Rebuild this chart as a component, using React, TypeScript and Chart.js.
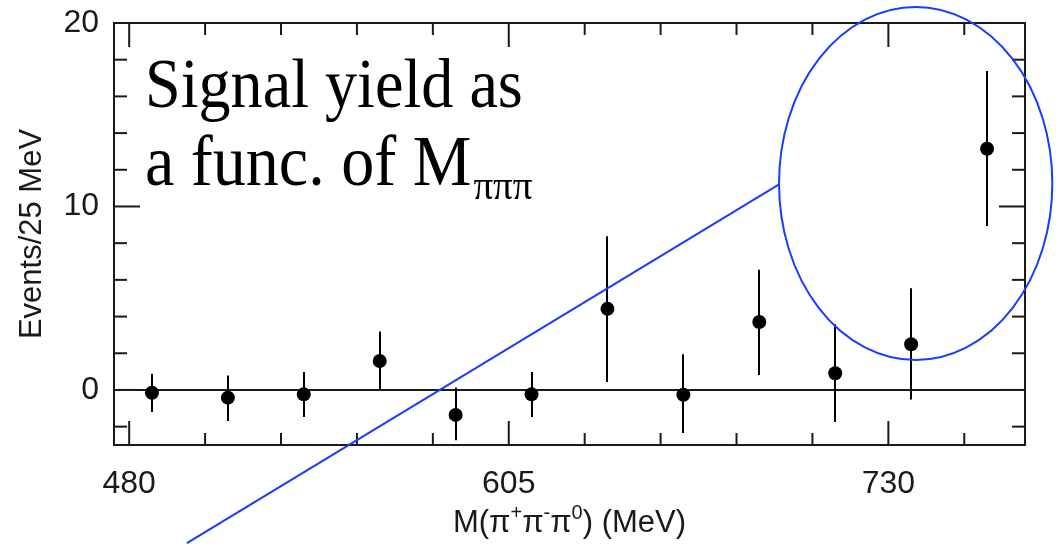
import React, { useEffect, useRef } from "react";
import { Chart, registerables } from "chart.js";

Chart.register(...registerables);

// ---- data ----
const massBins = [487.5, 512.5, 537.5, 562.5, 587.5, 612.5, 637.5, 662.5, 687.5, 712.5, 737.5, 762.5];
const yields = [-0.15, -0.42, -0.24, 1.58, -1.36, -0.24, 4.42, -0.26, 3.7, 0.91, 2.49, 13.15];
const errLow = [-1.2, -1.69, -1.48, 0.0, -2.74, -1.48, 0.44, -2.35, 0.82, -1.75, -0.52, 8.94];
const errHigh = [0.89, 0.79, 0.98, 3.19, 0.14, 0.98, 8.38, 1.95, 6.55, 3.58, 5.54, 17.38];

const xTickLabels = [480, 605, 730];
const xTickMarks = [480, 505, 530, 555, 580, 605, 630, 655, 680, 705, 730, 755];
const yTickLabels = [0, 10, 20];
const yMinorTicks = [-2, 2, 4, 6, 8, 12, 14, 16, 18];

// annotation geometry in data units
const ellipseCenter = [739, 11.25];
const ellipseRadii = [45, 9.62];
const pointerFrom = [694, 11.2];
const pointerTo = [499, -8.35];

const SANS = "'Liberation Sans', Arial, Helvetica, sans-serif";
const SERIF = "'Liberation Serif', 'Times New Roman', serif";
const INK = "#1a1a1a";
const BLUE = "#1a3cff";

function seg(ctx: CanvasRenderingContext2D, x1: number, y1: number, x2: number, y2: number) {
  ctx.beginPath();
  ctx.moveTo(x1, y1);
  ctx.lineTo(x2, y2);
  ctx.stroke();
}

const physPlugin = {
  id: "physPlot",
  beforeDatasetsDraw(chart: any) {
    const { ctx, chartArea: a, scales } = chart;
    const xs = scales.x;
    const ys = scales.y;
    ctx.save();
    ctx.strokeStyle = INK;
    ctx.lineWidth = 2;
    ctx.lineCap = "butt";
    // zero line
    const y0 = ys.getPixelForValue(0);
    seg(ctx, a.left, y0, a.right, y0);
    // x ticks (bottom and top, inward)
    for (const v of xTickMarks) {
      const px = xs.getPixelForValue(v);
      const len = xTickLabels.includes(v) ? 24 : 12;
      seg(ctx, px, a.bottom, px, a.bottom - len);
      seg(ctx, px, a.top, px, a.top + len);
    }
    // y ticks (left and right, inward)
    for (const v of yMinorTicks) {
      const py = ys.getPixelForValue(v);
      seg(ctx, a.left, py, a.left + 13, py);
      seg(ctx, a.right, py, a.right - 13, py);
    }
    for (const v of yTickLabels) {
      const py = ys.getPixelForValue(v);
      seg(ctx, a.left, py, a.left + 26, py);
      seg(ctx, a.right, py, a.right - 26, py);
    }
    // error bars
    ctx.strokeStyle = "#000";
    for (let i = 0; i < massBins.length; i++) {
      const px = Math.round(xs.getPixelForValue(massBins[i]));
      seg(ctx, px, ys.getPixelForValue(errLow[i]), px, ys.getPixelForValue(errHigh[i]));
    }
    // frame
    ctx.strokeStyle = INK;
    ctx.strokeRect(a.left, a.top, a.right - a.left, a.bottom - a.top);
    ctx.restore();
  },
  afterDraw(chart: any) {
    const { ctx, chartArea: a, scales } = chart;
    const xs = scales.x;
    const ys = scales.y;
    ctx.save();

    // x-axis title with superscripts
    const parts: [string, boolean][] = [
      ["M(\u03c0", false],
      ["+", true],
      ["\u03c0", false],
      ["-", true],
      ["\u03c0", false],
      ["0", true],
      [") (MeV)", false],
    ];
    const base = 31;
    const supSize = 20;
    const fontFor = (sup: boolean) => `${sup ? supSize : base}px ${SANS}`;
    let total = 0;
    for (const [t, s] of parts) {
      ctx.font = fontFor(s);
      total += ctx.measureText(t).width;
    }
    let cx = (a.left + a.right) / 2 - total / 2;
    const baseY = 532;
    ctx.fillStyle = INK;
    ctx.textBaseline = "alphabetic";
    ctx.textAlign = "left";
    for (const [t, s] of parts) {
      ctx.font = fontFor(s);
      ctx.fillText(t, cx, s ? baseY - 13 : baseY);
      cx += ctx.measureText(t).width;
    }

    // annotation text
    ctx.fillStyle = "#000";
    const sx = 0.93;
    const drawSq = (text: string, x: number, y: number, size: number) => {
      ctx.save();
      ctx.translate(x, y);
      ctx.scale(sx, 1);
      ctx.font = `${size}px ${SERIF}`;
      ctx.fillText(text, 0, 0);
      const w = ctx.measureText(text).width * sx;
      ctx.restore();
      return w;
    };
    drawSq("Signal yield as", 145, 107, 69);
    const w2 = drawSq("a func. of M", 145, 185, 71);
    drawSq("\u03c0\u03c0\u03c0", 145 + w2 + 2, 199, 42);

    // blue ellipse and pointer
    ctx.strokeStyle = BLUE;
    ctx.lineWidth = 2;
    const ecx = xs.getPixelForValue(ellipseCenter[0]);
    const ecy = ys.getPixelForValue(ellipseCenter[1]);
    const erx = Math.abs(xs.getPixelForValue(ellipseCenter[0] + ellipseRadii[0]) - ecx);
    const ery = Math.abs(ys.getPixelForValue(ellipseCenter[1] + ellipseRadii[1]) - ecy);
    ctx.beginPath();
    ctx.ellipse(ecx, ecy, erx, ery, 0, 0, Math.PI * 2);
    ctx.stroke();
    seg(
      ctx,
      xs.getPixelForValue(pointerFrom[0]),
      ys.getPixelForValue(pointerFrom[1]),
      xs.getPixelForValue(pointerTo[0]),
      ys.getPixelForValue(pointerTo[1])
    );
    ctx.restore();
  },
};

export default function App() {
  const canvasRef = useRef<HTMLCanvasElement | null>(null);

  useEffect(() => {
    document.body.style.margin = "0";
    const canvas = canvasRef.current;
    if (!canvas) return;
    const chart = new Chart(canvas, {
      type: "scatter",
      data: {
        datasets: [
          {
            label: "Signal yield",
            data: massBins.map((m, i) => ({ x: m, y: yields[i] })),
            backgroundColor: "#000",
            borderColor: "#000",
            borderWidth: 0,
            pointRadius: 7,
            pointHoverRadius: 7,
          },
        ],
      },
      options: {
        responsive: false,
        animation: false,
        devicePixelRatio: 1,
        layout: { padding: { top: 23, right: 31, left: 0, bottom: 0 } },
        plugins: { legend: { display: false }, tooltip: { enabled: false }, title: { display: false } },
        scales: {
          x: {
            type: "linear",
            min: 475,
            max: 775,
            grid: { display: false, drawTicks: false },
            border: { display: false },
            afterBuildTicks: (s: any) => {
              s.ticks = xTickLabels.map((v) => ({ value: v }));
            },
            afterFit: (s: any) => {
              s.height = 99;
              s.paddingLeft = 0;
              s.paddingRight = 0;
            },
            ticks: {
              autoSkip: false,
              maxRotation: 0,
              padding: 20,
              color: INK,
              font: { family: SANS, size: 32 },
              callback: (v: any) => String(v),
            },
          },
          y: {
            type: "linear",
            min: -3,
            max: 20,
            grid: { display: false, drawTicks: false },
            border: { display: false },
            afterBuildTicks: (s: any) => {
              s.ticks = yTickLabels.map((v) => ({ value: v }));
            },
            afterFit: (s: any) => {
              s.width = 114;
              s.paddingTop = 0;
              s.paddingBottom = 0;
            },
            ticks: {
              autoSkip: false,
              padding: 15,
              color: INK,
              font: { family: SANS, size: 32 },
              callback: (v: any) => String(v),
            },
            title: {
              display: true,
              text: "Events/25 MeV",
              color: INK,
              font: { family: SANS, size: 31 },
              padding: { top: 14, bottom: 0 },
            },
          },
        },
      },
      plugins: [physPlugin],
    });
    return () => chart.destroy();
  }, []);

  return (
    <div style={{ width: 1056, height: 544, background: "#fff" }}>
      <canvas ref={canvasRef} width={1056} height={544} style={{ display: "block" }} />
    </div>
  );
}
